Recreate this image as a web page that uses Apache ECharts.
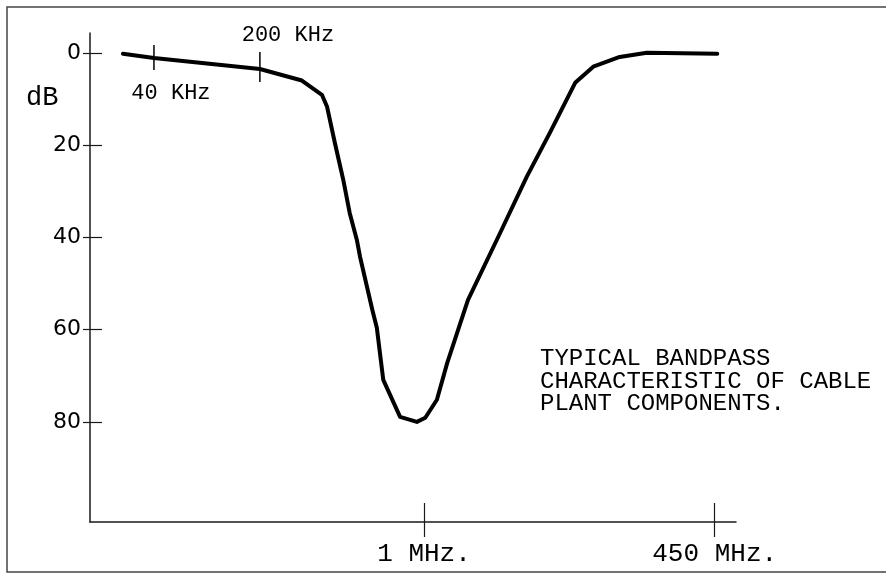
<!DOCTYPE html>
<html><head><meta charset="utf-8">
<script src="https://cdn.jsdelivr.net/npm/echarts@6/dist/echarts.min.js"></script>
<style>html,body{margin:0;padding:0;background:#fff}#c{width:886px;height:581px}</style>
</head><body><div id="c"></div>
<script>
// Schematic frequency position (0..100 along the axis) and attenuation in dB
const curveX = [5.1, 9.9, 26.3, 32.8, 35.9, 36.7, 37.9, 39.2, 40.2, 41.3, 41.8, 43.7, 44.4, 45.4, 48.0, 50.6, 51.9, 53.7, 55.3, 58.5, 63.5, 67.6, 71.2, 75.1, 77.9, 82.0, 86.2, 97.1];
const curveY = [0.2, 1.1, 3.5, 6.0, 9.1, 11.7, 19.5, 27.5, 34.7, 40.5, 44.2, 55.7, 59.6, 70.9, 78.9, 80.0, 79.1, 75.2, 67.2, 53.6, 39.0, 26.9, 17.3, 6.5, 3.0, 0.9, 0.0, 0.2];
const xTickValues = [51.7, 96.7];
const xTickLabels = ['1 MHz.', '450 MHz.'];
const yTickValues = [0, 20, 40, 60, 80];
const markerX = [9.9, 26.3];
const markerTop = [-1.7, -0.2];
const markerBottom = [3.7, 6.3];
const markerLabels = ['40 KHz', '200 KHz'];
const noteLines = ['TYPICAL BANDPASS', 'CHARACTERISTIC OF CABLE', 'PLANT COMPONENTS.'];
const yName = 'dB';

const chart = echarts.init(document.getElementById('c'));
const mono = '"Liberation Mono", "DejaVu Sans Mono", monospace';
const axisCol = '#1a1a1a';
const X_MIN = 0, X_MAX = 100, Y_MIN = -4.3, Y_MAX = 101.7;

const curveData = curveX.map((x, i) => [x, curveY[i]]);
const markerSeries = markerX.map((x, i) => ({
  type: 'line', symbol: 'none', silent: true,
  data: [[x, markerTop[i]], [x, markerBottom[i]]],
  lineStyle: { color: '#000', width: 1.5 }
}));
const labelAnchors = [
  { value: [markerX[0], markerBottom[0]], label: { offset: [17, 23] } },
  { value: [markerX[1], markerTop[1]], label: { offset: [28, -17] } }
];

chart.setOption({
  animation: false,
  backgroundColor: '#fff',
  grid: { left: 90, right: 150, top: 33, bottom: 59, containLabel: false },
  xAxis: [{
    type: 'value', min: X_MIN, max: X_MAX, position: 'bottom',
    splitLine: { show: false },
    axisLine: { show: true, onZero: false, lineStyle: { color: axisCol, width: 1.5 } },
    axisTick: { show: true, customValues: xTickValues, length: 15, lineStyle: { color: axisCol, width: 1.2 } },
    axisLabel: { show: true, customValues: xTickValues, margin: 19,
      formatter: v => xTickLabels[xTickValues.indexOf(v)] || '',
      fontFamily: mono, fontSize: 26, color: '#000' }
  }, {
    type: 'value', min: X_MIN, max: X_MAX, position: 'bottom',
    splitLine: { show: false },
    axisLine: { show: false, onZero: false },
    axisTick: { show: true, inside: true, customValues: xTickValues, length: 19, lineStyle: { color: axisCol, width: 1.2 } },
    axisLabel: { show: false }
  }],
  yAxis: [{
    type: 'value', min: Y_MIN, max: Y_MAX, inverse: true, position: 'left',
    splitLine: { show: false },
    axisLine: { show: true, onZero: false, lineStyle: { color: axisCol, width: 1.5 } },
    axisTick: { show: true, customValues: yTickValues, length: 7, lineStyle: { color: axisCol, width: 1.2 } },
    axisLabel: { show: true, customValues: yTickValues, margin: 9,
      fontFamily: '"DejaVu Sans", sans-serif', fontSize: 22, color: '#000' }
  }, {
    type: 'value', min: Y_MIN, max: Y_MAX, inverse: true, position: 'left',
    splitLine: { show: false },
    axisLine: { show: false, onZero: false },
    axisTick: { show: true, inside: true, customValues: yTickValues, length: 12, lineStyle: { color: axisCol, width: 1.2 } },
    axisLabel: { show: false }
  }],
  series: [{
    type: 'line', symbol: 'none', silent: true,
    data: curveData,
    lineStyle: { color: '#000', width: 4, join: 'round', cap: 'round' }
  }].concat(markerSeries).concat([{
    type: 'scatter', silent: true, symbolSize: 1,
    itemStyle: { color: 'rgba(0,0,0,0)', opacity: 1 },
    data: labelAnchors,
    label: { show: true, position: 'inside', color: '#000',
      fontFamily: mono, fontSize: 22,
      formatter: p => markerLabels[p.dataIndex] }
  }]),
  graphic: [{
    type: 'rect', silent: true,
    shape: { x: 7, y: 7, width: 882, height: 565 },
    style: { fill: 'none', stroke: '#444', lineWidth: 1.5 }
  }, {
    type: 'text', left: 26, top: 84, silent: true,
    style: { text: yName, fontFamily: mono, fontSize: 27, fill: '#000' }
  }, {
    type: 'text', left: 540, top: 347, silent: true,
    style: { text: noteLines.join('\n'), fontFamily: mono, fontSize: 24, lineHeight: 22.5, fill: '#000' }
  }]
});
</script>
</body></html>
